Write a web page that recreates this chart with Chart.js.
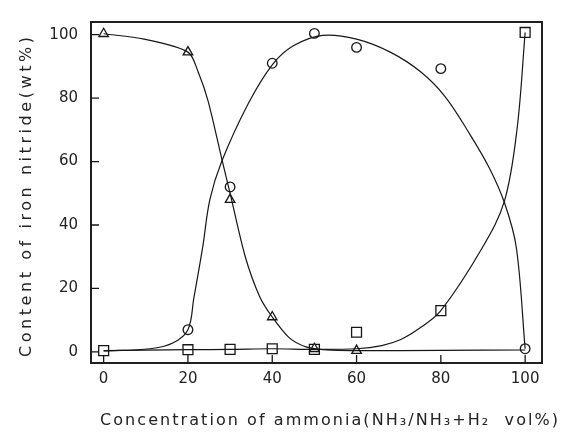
<!DOCTYPE html>
<html><head><meta charset="utf-8">
<script src="https://cdn.jsdelivr.net/npm/chart.js@4.4.0/dist/chart.umd.min.js"></script>
<style>html,body{margin:0;padding:0;background:#fff;}</style>
</head><body>
<canvas id="c" width="568" height="442"></canvas>
<script>
// Tick labels
const xTicks = [0, 20, 40, 60, 80, 100];
const yTicks = [0, 20, 40, 60, 80, 100];
// Axis titles
const xTitle = 'Concentration of ammonia(NH\u2083/NH\u2083+H\u2082  vol%)';
const yTitle = 'Content of iron nitride(wt%)';

// Measured points (markers)
const circleX   = [20, 30, 40, 50, 60, 80, 100];
const circleY   = [7, 52, 91, 100.4, 96, 89.3, 1];
const triangleX = [0, 20, 30, 40, 50, 60];
const triangleY = [100.3, 94.5, 48, 11, 1, 0.4];
const squareX   = [0, 20, 30, 40, 50, 60, 80, 100];
const squareY   = [0.4, 0.7, 0.8, 1, 0.8, 6.2, 13, 100.7];

// Hand-drawn fitted curves
const circleCurveX = [0, 11, 16.4, 20, 21.4, 23.5, 25.2, 28, 34.2, 40, 45, 52, 60, 68, 75.2, 81, 86.7, 91.5, 95.1, 97.9, 100];
const circleCurveY = [0.3, 1, 2.8, 7, 17, 33, 48, 60, 78, 90.5, 96.5, 99.8, 98.6, 94.5, 88.3, 80.5, 69, 58, 47, 33, 1];
const triCurveX = [0, 9.6, 20, 22.5, 24.8, 28, 30, 33.6, 37, 40, 44, 48, 53, 60, 80, 100];
const triCurveY = [100.3, 98.6, 94.5, 88, 79, 61, 50, 30, 17.5, 11, 4.5, 1.6, 0.6, 0.4, 0.5, 0.6];
const sqCurveX = [0, 20, 30, 40, 50, 60, 66, 70.5, 75, 80, 89.9, 95.1, 98.1, 100];
const sqCurveY = [0.4, 0.7, 0.8, 1, 0.8, 1, 2, 3.9, 7.5, 13, 33, 47.6, 70.5, 100.7];

const pts = (xs, ys) => xs.map((x, i) => ({x, y: ys[i]}));
const INK = '#161616';
const FONT = 'DejaVu Sans';

function curve(xs, ys, tension) {
  return {data: pts(xs, ys), showLine: true, pointRadius: 0, borderColor: INK,
          borderWidth: 1.2, tension: tension, fill: false};
}
function marks(xs, ys, style, r) {
  return {data: pts(xs, ys), showLine: false, pointStyle: style, pointRadius: r,
          pointBackgroundColor: '#fff', pointBorderColor: INK, pointBorderWidth: 1.3};
}

function spaced(ctx, text, cx, cy, target) {
  ctx.letterSpacing = '0px';
  const w = ctx.measureText(text).width;
  const n = [...text].length;
  const ls = Math.max(0, (target - w) / (n - 1));
  ctx.letterSpacing = ls + 'px';
  ctx.textAlign = 'left';
  ctx.textBaseline = 'middle';
  ctx.fillText(text, cx - (w + (n - 1) * ls) / 2, cy);
  ctx.letterSpacing = '0px';
}

const framePlugin = {
  id: 'frame',
  afterDatasetsDraw(chart) {
    const {ctx, chartArea: a, scales: {x, y}} = chart;
    ctx.save();
    ctx.strokeStyle = INK;
    ctx.lineWidth = 1.9;
    ctx.strokeRect(a.left, a.top, a.right - a.left, a.bottom - a.top);
    ctx.lineWidth = 1.3;
    ctx.beginPath();
    xTicks.forEach(v => { const px = x.getPixelForValue(v); ctx.moveTo(px, a.bottom); ctx.lineTo(px, a.bottom - 8); });
    yTicks.forEach(v => { const py = y.getPixelForValue(v); ctx.moveTo(a.left, py); ctx.lineTo(a.left + 8, py); });
    ctx.stroke();
    ctx.restore();
  },
  afterDraw(chart) {
    const ctx = chart.ctx;
    ctx.save();
    ctx.fillStyle = '#222';
    ctx.font = '16px "' + FONT + '"';
    spaced(ctx, xTitle, 329, 421, 458);
    ctx.translate(27, 197);
    ctx.rotate(-Math.PI / 2);
    spaced(ctx, yTitle, 0, 0, 320);
    ctx.restore();
  }
};

new Chart(document.getElementById('c'), {
  type: 'scatter',
  data: {datasets: [
    curve(circleCurveX, circleCurveY, 0.35),
    curve(triCurveX, triCurveY, 0.3),
    curve(sqCurveX, sqCurveY, 0.35),
    marks(circleX, circleY, 'circle', 4.8),
    marks(triangleX, triangleY, 'triangle', 5.5),
    marks(squareX, squareY, 'rect', 7)
  ]},
  options: {
    responsive: false, animation: false, devicePixelRatio: 1,
    layout: {padding: {left: 0, right: 26, top: 12, bottom: 0}},
    plugins: {legend: {display: false}, tooltip: {enabled: false}},
    scales: {
      x: {type: 'linear', min: -3, max: 104,
          afterBuildTicks: s => { s.ticks = xTicks.map(v => ({value: v})); },
          afterFit: s => { s.height = 79; },
          grid: {display: false, drawTicks: false}, border: {display: false},
          ticks: {padding: 7, color: '#222', autoSkip: false, maxRotation: 0, font: {family: FONT, size: 15}}},
      y: {type: 'linear', min: -3.5, max: 104,
          afterBuildTicks: s => { s.ticks = yTicks.map(v => ({value: v})); },
          afterFit: s => { s.width = 91; },
          grid: {display: false, drawTicks: false}, border: {display: false},
          ticks: {padding: 13, color: '#222', autoSkip: false, font: {family: FONT, size: 15}}}
    }
  },
  plugins: [framePlugin]
});
</script>
</body></html>
